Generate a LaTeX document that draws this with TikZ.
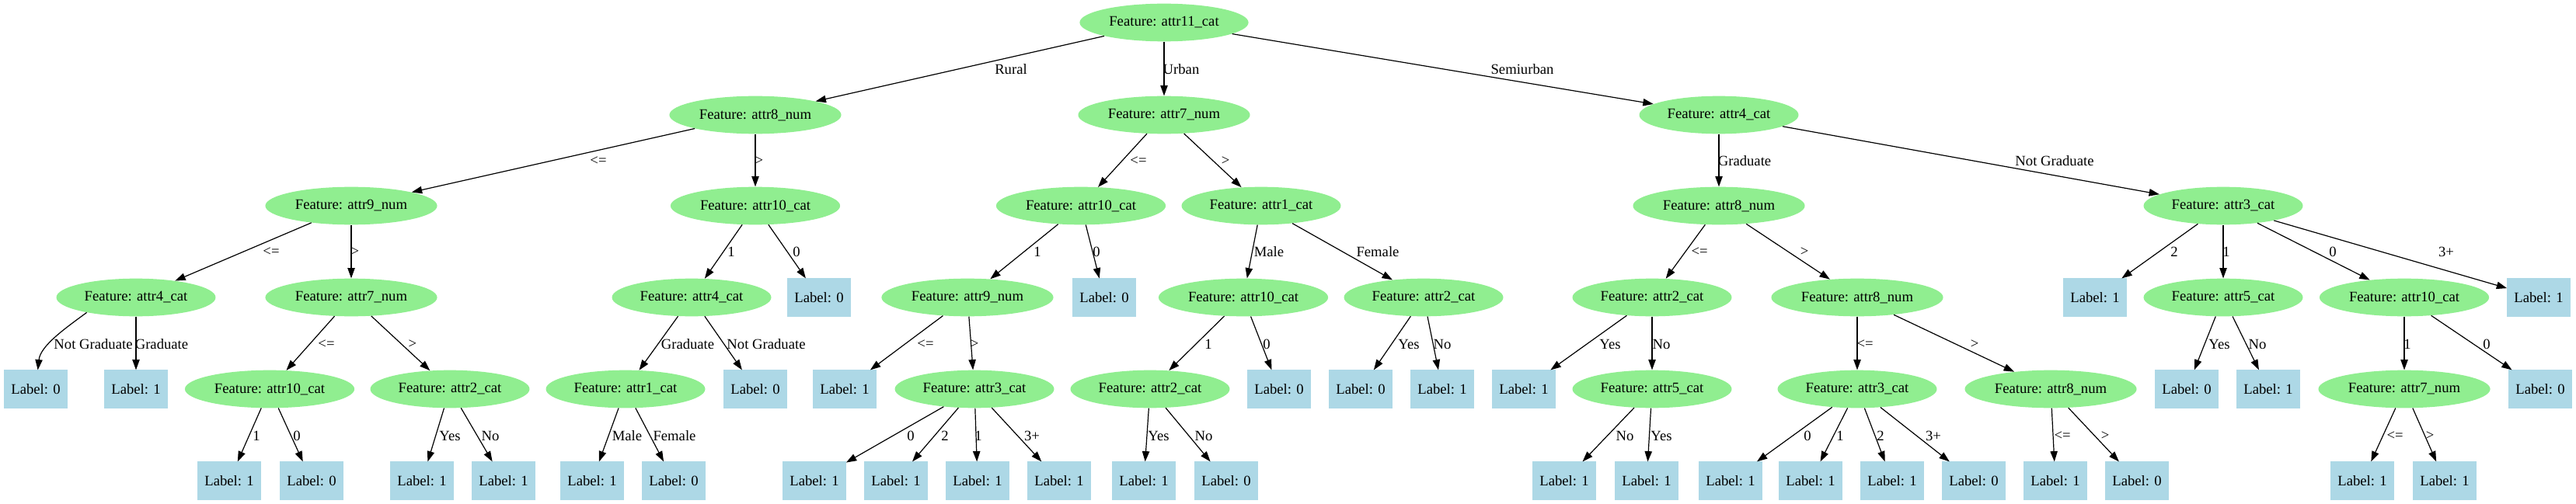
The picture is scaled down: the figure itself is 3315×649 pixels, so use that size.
\documentclass[tikz,border=0pt]{standalone}
\usepackage{fontspec}
\setmainfont{Liberation Serif}
\usetikzlibrary{arrows.meta, shapes.geometric}
\definecolor{featgreen}{RGB}{144,238,144}
\definecolor{leafblue}{RGB}{173,216,230}

\begin{document}
\begin{tikzpicture}[x=0.75pt, y=-0.75pt,
  every node/.style={font=\fontsize{14pt}{16pt}\selectfont},
  feat/.style={ellipse, fill=featgreen, inner xsep=4.6pt, inner ysep=2pt, minimum height=36.5pt},
  leaf/.style={rectangle, fill=leafblue, draw=leafblue, minimum width=61pt, minimum height=36.5pt},
  edge/.style={-{Triangle[length=10pt, width=7pt]}, line width=0.9pt},
  elbl/.style={inner sep=0pt}]
  \useasboundingbox (0,0) rectangle (3315,649);
  \node[feat] (n) at (1498,29) {Feature: attr11\_cat};
  \node[feat] (na) at (972,148) {Feature: attr8\_num};
  \node[feat] (nb) at (1498,148) {Feature: attr7\_num};
  \node[feat] (nc) at (2212,148) {Feature: attr4\_cat};
  \node[feat] (naa) at (452,265) {Feature: attr9\_num};
  \node[feat] (nab) at (972,265) {Feature: attr10\_cat};
  \node[feat] (nba) at (1391,265) {Feature: attr10\_cat};
  \node[feat] (nbb) at (1623,265) {Feature: attr1\_cat};
  \node[feat] (nca) at (2212,265) {Feature: attr8\_num};
  \node[feat] (ncb) at (2861,265) {Feature: attr3\_cat};
  \node[feat] (naaa) at (175,383) {Feature: attr4\_cat};
  \node[feat] (naab) at (452,383) {Feature: attr7\_num};
  \node[feat] (naba) at (890,383) {Feature: attr4\_cat};
  \node[leaf] (nabb) at (1054,383) {Label: 0};
  \node[feat] (nbaa) at (1245,383) {Feature: attr9\_num};
  \node[leaf] (nbab) at (1421,383) {Label: 0};
  \node[feat] (nbba) at (1600,383) {Feature: attr10\_cat};
  \node[feat] (nbbb) at (1832,383) {Feature: attr2\_cat};
  \node[feat] (ncaa) at (2126,383) {Feature: attr2\_cat};
  \node[feat] (ncab) at (2390,383) {Feature: attr8\_num};
  \node[leaf] (ncba) at (2696,383) {Label: 1};
  \node[feat] (ncbb) at (2861,383) {Feature: attr5\_cat};
  \node[feat] (ncbc) at (3094,383) {Feature: attr10\_cat};
  \node[leaf] (ncbd) at (3267,383) {Label: 1};
  \node[leaf] (naaaa) at (46,501) {Label: 0};
  \node[leaf] (naaab) at (175,501) {Label: 1};
  \node[feat] (naaba) at (347,501) {Feature: attr10\_cat};
  \node[feat] (naabb) at (579,501) {Feature: attr2\_cat};
  \node[feat] (nabaa) at (805,501) {Feature: attr1\_cat};
  \node[leaf] (nabab) at (972,501) {Label: 0};
  \node[leaf] (nbaaa) at (1087,501) {Label: 1};
  \node[feat] (nbaab) at (1254,501) {Feature: attr3\_cat};
  \node[feat] (nbbaa) at (1480,501) {Feature: attr2\_cat};
  \node[leaf] (nbbab) at (1646,501) {Label: 0};
  \node[leaf] (nbbba) at (1751,501) {Label: 0};
  \node[leaf] (nbbbb) at (1856,501) {Label: 1};
  \node[leaf] (ncaaa) at (1961,501) {Label: 1};
  \node[feat] (ncaab) at (2126,501) {Feature: attr5\_cat};
  \node[feat] (ncaba) at (2390,501) {Feature: attr3\_cat};
  \node[feat] (ncabb) at (2639,501) {Feature: attr8\_num};
  \node[leaf] (ncbba) at (2814,501) {Label: 0};
  \node[leaf] (ncbbb) at (2919,501) {Label: 1};
  \node[feat] (ncbca) at (3094,501) {Feature: attr7\_num};
  \node[leaf] (ncbcb) at (3269,501) {Label: 0};
  \node[leaf] (naabaa) at (295,619) {Label: 1};
  \node[leaf] (naabab) at (401,619) {Label: 0};
  \node[leaf] (naabba) at (543,619) {Label: 1};
  \node[leaf] (naabbb) at (648,619) {Label: 1};
  \node[leaf] (nabaaa) at (762,619) {Label: 1};
  \node[leaf] (nabaab) at (867,619) {Label: 0};
  \node[leaf] (nbaaba) at (1048,619) {Label: 1};
  \node[leaf] (nbaabb) at (1153,619) {Label: 1};
  \node[leaf] (nbaabc) at (1258,619) {Label: 1};
  \node[leaf] (nbaabd) at (1363,619) {Label: 1};
  \node[leaf] (nbbaaa) at (1472,619) {Label: 1};
  \node[leaf] (nbbaab) at (1578,619) {Label: 0};
  \node[leaf] (ncaaba) at (2013,619) {Label: 1};
  \node[leaf] (ncaabb) at (2119,619) {Label: 1};
  \node[leaf] (ncabaa) at (2227,619) {Label: 1};
  \node[leaf] (ncabab) at (2330,619) {Label: 1};
  \node[leaf] (ncabac) at (2435,619) {Label: 1};
  \node[leaf] (ncabad) at (2540,619) {Label: 0};
  \node[leaf] (ncabba) at (2645,619) {Label: 1};
  \node[leaf] (ncabbb) at (2750,619) {Label: 0};
  \node[leaf] (ncbcaa) at (3040,619) {Label: 1};
  \node[leaf] (ncbcab) at (3146,619) {Label: 1};
  \draw[edge] (n) -- (na) node[elbl] at (1301,89) {Rural};
  \draw[edge] (n) -- (nb) node[elbl] at (1520,89) {Urban};
  \draw[edge] (n) -- (nc) node[elbl] at (1959,89) {Semiurban};
  \draw[edge] (na) -- (naa) node[elbl] at (770,207) {<=};
  \draw[edge] (na) -- (nab) node[elbl] at (977,207) {>};
  \draw[edge] (nb) -- (nba) node[elbl] at (1465,207) {<=};
  \draw[edge] (nb) -- (nbb) node[elbl] at (1577,207) {>};
  \draw[edge] (nc) -- (nca) node[elbl] at (2245,207) {Graduate};
  \draw[edge] (nc) -- (ncb) node[elbl] at (2644,207) {Not Graduate};
  \draw[edge] (naa) -- (naaa) node[elbl] at (349,324) {<=};
  \draw[edge] (naa) -- (naab) node[elbl] at (457,324) {>};
  \draw[edge] (nab) -- (naba) node[elbl] at (941,324) {1};
  \draw[edge] (nab) -- (nabb) node[elbl] at (1025,324) {0};
  \draw[edge] (nba) -- (nbaa) node[elbl] at (1335,324) {1};
  \draw[edge] (nba) -- (nbab) node[elbl] at (1411,324) {0};
  \draw[edge] (nbb) -- (nbba) node[elbl] at (1633,324) {Male};
  \draw[edge] (nbb) -- (nbbb) node[elbl] at (1773,324) {Female};
  \draw[edge] (nca) -- (ncaa) node[elbl] at (2187,324) {<=};
  \draw[edge] (nca) -- (ncab) node[elbl] at (2322,324) {>};
  \draw[edge] (ncb) -- (ncba) node[elbl] at (2798,324) {2};
  \draw[edge] (ncb) -- (ncbb) node[elbl] at (2865,324) {1};
  \draw[edge] (ncb) -- (ncbc) node[elbl] at (3002,324) {0};
  \draw[edge] (ncb) -- (ncbd) node[elbl] at (3148,324) {3+};
  \draw[edge] (naaa.197) .. controls (85,422) and (52,445) .. (naaaa) node[elbl] at (120,443) {Not Graduate};
  \draw[edge] (naaa) -- (naaab) node[elbl] at (208,443) {Graduate};
  \draw[edge] (naab) -- (naaba) node[elbl] at (420,443) {<=};
  \draw[edge] (naab) -- (naabb) node[elbl] at (531,443) {>};
  \draw[edge] (naba) -- (nabaa) node[elbl] at (885,443) {Graduate};
  \draw[edge] (naba) -- (nabab) node[elbl] at (986,443) {Not Graduate};
  \draw[edge] (nbaa) -- (nbaaa) node[elbl] at (1191,443) {<=};
  \draw[edge] (nbaa) -- (nbaab) node[elbl] at (1254,443) {>};
  \draw[edge] (nbba) -- (nbbaa) node[elbl] at (1555,443) {1};
  \draw[edge] (nbba) -- (nbbab) node[elbl] at (1630,443) {0};
  \draw[edge] (nbbb) -- (nbbba) node[elbl] at (1813,443) {Yes};
  \draw[edge] (nbbb) -- (nbbbb) node[elbl] at (1856,443) {No};
  \draw[edge] (ncaa) -- (ncaaa) node[elbl] at (2072,443) {Yes};
  \draw[edge] (ncaa) -- (ncaab) node[elbl] at (2138,443) {No};
  \draw[edge] (ncab) -- (ncaba) node[elbl] at (2400,443) {<=};
  \draw[edge] (ncab) -- (ncabb) node[elbl] at (2541,443) {>};
  \draw[edge] (ncbb) -- (ncbba) node[elbl] at (2856,443) {Yes};
  \draw[edge] (ncbb) -- (ncbbb) node[elbl] at (2905,443) {No};
  \draw[edge] (ncbc) -- (ncbca) node[elbl] at (3098,443) {1};
  \draw[edge] (ncbc) -- (ncbcb) node[elbl] at (3200,443) {0};
  \draw[edge] (naaba) -- (naabaa) node[elbl] at (330,561) {1};
  \draw[edge] (naaba) -- (naabab) node[elbl] at (382,561) {0};
  \draw[edge] (naabb) -- (naabba) node[elbl] at (579,561) {Yes};
  \draw[edge] (naabb) -- (naabbb) node[elbl] at (631,561) {No};
  \draw[edge] (nabaa) -- (nabaaa) node[elbl] at (807,561) {Male};
  \draw[edge] (nabaa) -- (nabaab) node[elbl] at (868,561) {Female};
  \draw[edge] (nbaab) -- (nbaaba) node[elbl] at (1172,561) {0};
  \draw[edge] (nbaab) -- (nbaabb) node[elbl] at (1216,561) {2};
  \draw[edge] (nbaab) -- (nbaabc) node[elbl] at (1259,561) {1};
  \draw[edge] (nbaab) -- (nbaabd) node[elbl] at (1328,561) {3+};
  \draw[edge] (nbbaa) -- (nbbaaa) node[elbl] at (1491,561) {Yes};
  \draw[edge] (nbbaa) -- (nbbaab) node[elbl] at (1549,561) {No};
  \draw[edge] (ncaab) -- (ncaaba) node[elbl] at (2091,561) {No};
  \draw[edge] (ncaab) -- (ncaabb) node[elbl] at (2138,561) {Yes};
  \draw[edge] (ncaba) -- (ncabaa) node[elbl] at (2326,561) {0};
  \draw[edge] (ncaba) -- (ncabab) node[elbl] at (2368,561) {1};
  \draw[edge] (ncaba) -- (ncabac) node[elbl] at (2420,561) {2};
  \draw[edge] (ncaba) -- (ncabad) node[elbl] at (2488,561) {3+};
  \draw[edge] (ncabb) -- (ncabba) node[elbl] at (2654,561) {<=};
  \draw[edge] (ncabb) -- (ncabbb) node[elbl] at (2709,561) {>};
  \draw[edge] (ncbca) -- (ncbcaa) node[elbl] at (3082,561) {<=};
  \draw[edge] (ncbca) -- (ncbcab) node[elbl] at (3127,561) {>};
\end{tikzpicture}
\end{document}
